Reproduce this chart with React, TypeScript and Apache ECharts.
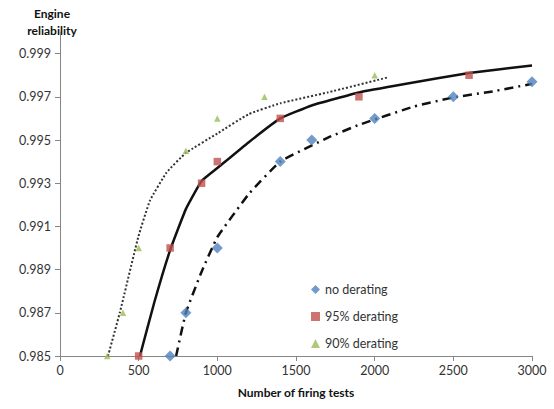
import React, { useEffect, useRef } from "react";
import * as echarts from "echarts";

// Markers
const noDerating: [number, number][] = [
  [700, 0.985], [800, 0.987], [1000, 0.990], [1400, 0.994], [1600, 0.995],
  [2000, 0.996], [2500, 0.997], [3000, 0.9977],
];
const derating95: [number, number][] = [
  [500, 0.985], [700, 0.990], [900, 0.993], [1000, 0.994], [1400, 0.996],
  [1900, 0.997], [2600, 0.998],
];
const derating90: [number, number][] = [
  [300, 0.985], [400, 0.987], [500, 0.990], [800, 0.9945], [1000, 0.996],
  [1300, 0.997], [2000, 0.998],
];

// Trend curves
const trendNo: [number, number][] = [
  [738, 0.985], [800, 0.9870], [900, 0.9889], [1000, 0.9905], [1200, 0.9925],
  [1400, 0.9940], [1700, 0.9951], [1900, 0.9957], [2250, 0.99655],
  [2500, 0.99697], [2750, 0.99725], [3000, 0.9976],
];
const trend95: [number, number][] = [
  [508, 0.985], [600, 0.9875], [700, 0.9899], [800, 0.9918], [900, 0.9931],
  [1000, 0.9937], [1200, 0.9949], [1400, 0.9960], [1600, 0.9966],
  [1900, 0.9972], [2200, 0.9976], [2600, 0.9981], [3000, 0.99845],
];
const trend90: [number, number][] = [
  [305, 0.985], [380, 0.987], [497, 0.9905], [572, 0.9922], [678, 0.9935],
  [800, 0.9944], [1000, 0.9953], [1200, 0.9962], [1400, 0.9967],
  [1700, 0.9972], [2085, 0.9979],
];

const yTicks = [0.985, 0.987, 0.989, 0.991, 0.993, 0.995, 0.997, 0.999];
const seriesNames = ["no derating", "95% derating", "90% derating"];

const FONT = "Lato, 'Open Sans', sans-serif";

export default function App() {
  const ref = useRef<HTMLDivElement>(null);
  useEffect(() => {
    document.body.style.margin = "0";
    const chart = echarts.init(ref.current!, null, { renderer: "svg" });
    const axisLine = { lineStyle: { color: "#868686", width: 1 } };
    chart.setOption({
      animation: false,
      backgroundColor: "#ffffff",
      textStyle: { fontFamily: FONT },
      grid: { left: 60, right: 22, top: 32, bottom: 53, containLabel: false },
      legend: {
        orient: "vertical",
        left: 306,
        top: 278,
        itemGap: 14,
        itemWidth: 9,
        itemHeight: 9,
        data: seriesNames,
        textStyle: { fontFamily: FONT, fontSize: 12.5, color: "#333" },
      },
      graphic: [
        {
          type: "text",
          x: 52,
          y: 5,
          style: {
            text: "Engine\nreliability",
            textAlign: "center",
            fontFamily: FONT,
            fontWeight: "bold",
            fontSize: 12,
            lineHeight: 17,
            fill: "#111",
          },
        },
      ],
      xAxis: {
        type: "value",
        min: 0,
        max: 3000,
        interval: 500,
        name: "Number of firing tests",
        nameLocation: "middle",
        nameGap: 30,
        nameTextStyle: { fontFamily: FONT, fontWeight: "bold", fontSize: 12, color: "#111" },
        axisLine: { ...axisLine, onZero: false },
        axisTick: { show: true, inside: false, length: 5, lineStyle: { color: "#868686" } },
        axisLabel: {
          fontFamily: FONT,
          fontSize: 12.5,
          color: "#333",
          margin: 8,
          formatter: (v: number) => String(v),
        },
        splitLine: { show: false },
      },
      yAxis: {
        type: "value",
        min: 0.985,
        max: 1.0,
        axisLine: { show: true, ...axisLine, onZero: false },
        axisTick: {
          show: true,
          length: 5,
          customValues: yTicks,
          lineStyle: { color: "#868686" },
        },
        axisLabel: {
          fontFamily: FONT,
          fontSize: 12.5,
          color: "#333",
          margin: 9,
          customValues: yTicks,
          formatter: (v: number) => v.toFixed(3),
        },
        splitLine: { show: false },
      },
      series: [
        {
          name: "trend no",
          type: "line",
          data: trendNo,
          smooth: 0.12,
          showSymbol: false,
          symbol: "none",
          lineStyle: { color: "#111", width: 2.5, type: [9, 5, 2, 5] },
          z: 2,
        },
        {
          name: "trend 95",
          type: "line",
          data: trend95,
          smooth: 0.12,
          showSymbol: false,
          symbol: "none",
          lineStyle: { color: "#111", width: 2.5, type: "solid" },
          z: 2,
        },
        {
          name: "trend 90",
          type: "line",
          data: trend90,
          smooth: 0.12,
          showSymbol: false,
          symbol: "none",
          lineStyle: { color: "#333", width: 2, type: [2, 2] },
          z: 2,
        },
        {
          name: seriesNames[0],
          type: "scatter",
          data: noDerating,
          symbol: "diamond",
          symbolSize: 11,
          itemStyle: { color: "#4F81BD" },
          z: 3,
        },
        {
          name: seriesNames[1],
          type: "scatter",
          data: derating95,
          symbol: "rect",
          symbolSize: 7.5,
          itemStyle: { color: "#C0504D" },
          z: 3,
        },
        {
          name: seriesNames[2],
          type: "scatter",
          data: derating90,
          symbol: "triangle",
          symbolSize: 6.5,
          itemStyle: { color: "#9BBB59" },
          z: 3,
        },
      ],
    });
    return () => chart.dispose();
  }, []);
  return <div ref={ref} style={{ width: 554, height: 409 }} />;
}
